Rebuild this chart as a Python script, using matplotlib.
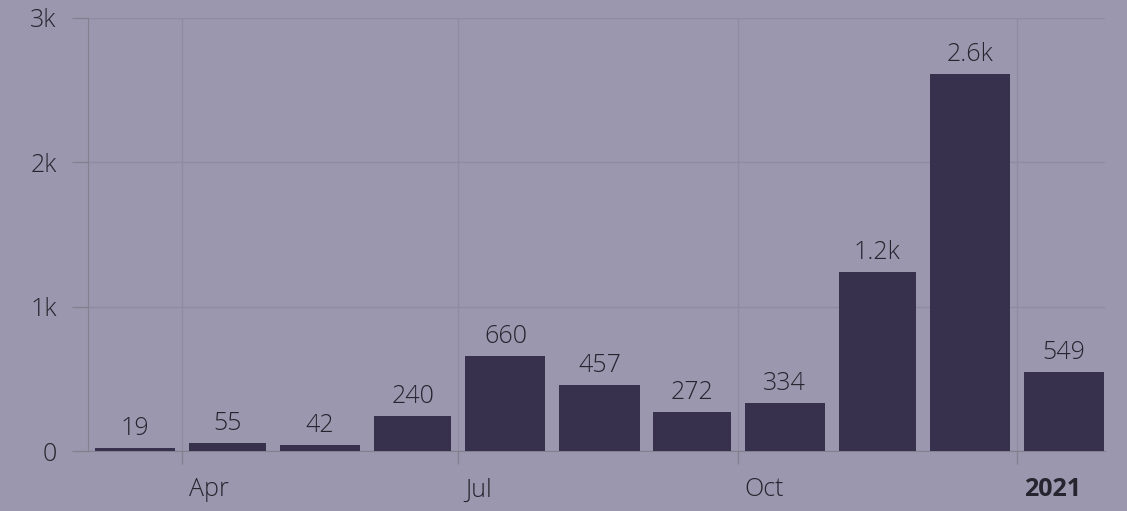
import datetime as dt
import matplotlib
matplotlib.use("Agg")
import matplotlib.pyplot as plt
import matplotlib.transforms as mtransforms

months = ["2020-03", "2020-04", "2020-05", "2020-06", "2020-07", "2020-08",
          "2020-09", "2020-10", "2020-11", "2020-12", "2021-01"]
counts = [19, 55, 42, 240, 660, 457, 272, 334, 1240, 2610, 549]

tick_dates = ["2020-04-01", "2020-07-01", "2020-10-01", "2021-01-01"]
tick_labels = ["Apr", "Jul", "Oct", "2021"]
y_ticks = [0, 1000, 2000, 3000]
y_labels = ["0", "1k", "2k", "3k"]

bg = "#9b97ae"
bar_color = "#37314e"
grid_color = "#8f8ba3"
axis_color = "#84818f"
text_color = "#26242f"

plt.rcParams["font.family"] = ["Open Sans", "DejaVu Sans"]
plt.rcParams["font.weight"] = 300
FS = 18


def fmt(v):
    return f"{v / 1000:.1f}k" if v >= 1000 else str(v)


starts = [dt.datetime.strptime(m, "%Y-%m") for m in months]
ends = [starts[i + 1] if i + 1 < len(starts) else dt.datetime(2021, 2, 1)
        for i in range(len(starts))]
centers = [s + (e - s) / 2 for s, e in zip(starts, ends)]
widths = [0.85 * (e - s).days for s, e in zip(starts, ends)]

fig = plt.figure(figsize=(11.27, 5.11), dpi=100, facecolor=bg)
ax = fig.add_axes([0.078, 0.1174, 0.9025, 0.8474], facecolor=bg)

ax.bar(centers, counts, width=widths, color=bar_color, zorder=3)
for c, v in zip(centers, counts):
    ax.annotate(fmt(v), (c, v), xytext=(0, 5), textcoords="offset points",
                ha="center", va="bottom", fontsize=FS, color=text_color)

ax.set_xlim(dt.datetime(2020, 3, 1), dt.datetime(2021, 1, 30))
ax.set_ylim(0, 3000)

ax.set_xticks([dt.datetime.strptime(d, "%Y-%m-%d") for d in tick_dates])
ax.set_xticklabels(tick_labels, ha="left", fontsize=FS, color=text_color)
for lbl in ax.get_xticklabels():
    if lbl.get_text() == "2021":
        lbl.set_fontweight("bold")
ax.set_yticks(y_ticks)
ax.set_yticklabels(y_labels, fontsize=FS, color=text_color)

ax.tick_params(axis="x", length=9, width=1, color=axis_color, pad=10)
ax.tick_params(axis="y", length=11.5, width=1, color=axis_color, pad=11)
shift = mtransforms.ScaledTranslation(5 / 72, 0, fig.dpi_scale_trans)
for lbl in ax.get_xticklabels():
    lbl.set_transform(lbl.get_transform() + shift)

ax.grid(True, color=grid_color, linewidth=1, zorder=0)
for s in ["top", "right"]:
    ax.spines[s].set_visible(False)
ax.spines["left"].set_color(axis_color)
ax.spines["bottom"].set_color(axis_color)

fig.savefig("out.png", dpi=100, facecolor=bg)
